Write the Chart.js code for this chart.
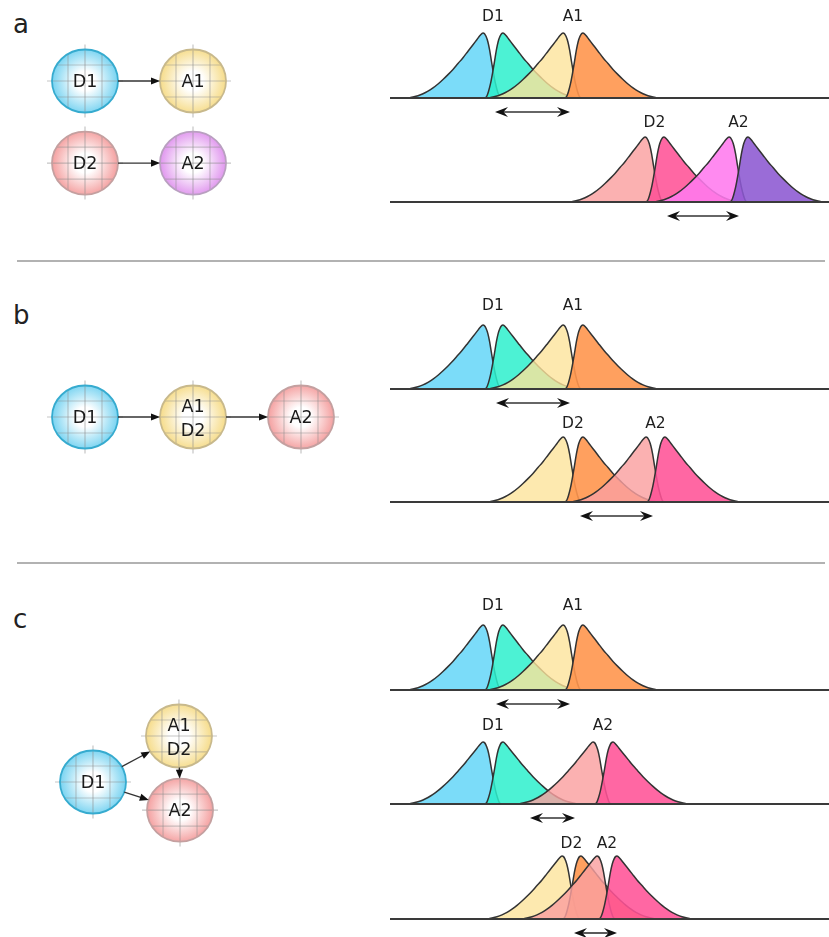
<!DOCTYPE html>
<html>
<head>
<meta charset="utf-8">
<script src="https://cdn.jsdelivr.net/npm/chart.js@4.4.1/dist/chart.umd.min.js"></script>
<style>
  html, body { margin: 0; padding: 0; background: #fff; overflow: hidden; }
  #fig { position: relative; width: 829px; height: 937px; overflow: hidden; background: #fff;
         font-family: "DejaVu Sans", sans-serif; }
  #fig canvas { position: absolute; }
  .tag { position: absolute; left: 13px; font-size: 26px; line-height: 26px; color: #222; }
  .rule { position: absolute; left: 17px; width: 808px; height: 2px; background: #b2b2b2; }
</style>
</head>
<body>
<div id="fig">
  <div class="tag" style="top:11px">a</div>
  <div class="tag" style="top:302px">b</div>
  <div class="tag" style="top:606px">c</div>
  <div class="rule" style="top:260px"></div>
  <div class="rule" style="top:562px"></div>
</div>
<script>
// ---------- peak shapes (offset from the mode, relative density) ----------
const shapeLeftTail = [[-7.5,0],[-7,0.015],[-6.5,0.035],[-6,0.065],[-5.5,0.105],[-5,0.155],
  [-4.5,0.215],[-4,0.285],[-3.5,0.36],[-3,0.44],[-2.5,0.53],[-2,0.62],[-1.5,0.72],[-1,0.82],
  [-0.6,0.9],[-0.3,0.96],[0,1],[0.15,0.99],[0.3,0.95],[0.48,0.87],[0.66,0.74],[0.85,0.56],
  [1.05,0.38],[1.25,0.22],[1.45,0.1],[1.6,0.035],[1.75,0]];
const shapeRightTail = [[-1.75,0],[-1.6,0.035],[-1.45,0.1],[-1.25,0.22],[-1.05,0.38],[-0.85,0.56],
  [-0.66,0.74],[-0.48,0.87],[-0.3,0.95],[-0.15,0.99],[0,1],[0.3,0.96],[0.6,0.9],[1,0.82],
  [1.5,0.72],[2,0.62],[2.5,0.53],[3,0.44],[3.5,0.36],[4,0.285],[4.5,0.215],[5,0.155],
  [5.5,0.105],[6,0.065],[6.5,0.035],[7,0.015],[7.5,0]];

// ---------- distribution rows: labels, modes (onset/offset pairs), arrow span ----------
const labelsA1 = ["D1", "A1"];  const modesA1 = [9.3, 11.3, 17.3, 19.3];  const spanA1 = [10.5, 18.0];
const labelsA2 = ["D2", "A2"];  const modesA2 = [25.5, 27.4, 33.9, 35.8]; const spanA2 = [27.7, 34.9];
const labelsB1 = ["D1", "A1"];  const modesB1 = [9.3, 11.3, 17.3, 19.3];  const spanB1 = [10.6, 18.0];
const labelsB2 = ["D2", "A2"];  const modesB2 = [17.3, 19.3, 25.6, 27.5]; const spanB2 = [19.0, 26.3];
const labelsC1 = ["D1", "A1"];  const modesC1 = [9.3, 11.3, 17.3, 19.3];  const spanC1 = [10.6, 18.0];
const labelsC2 = ["D1", "A2"];  const modesC2 = [9.3, 11.3, 20.3, 22.3];  const spanC2 = [14.0, 18.5];
const labelsC3 = ["D2", "A2"];  const modesC3 = [17.2, 19.1, 20.7, 22.7]; const spanC3 = [18.4, 22.7];

// ---------- node diagrams ----------
const nodesA = ["D1", "A1", "D2", "A2"];     const nodeXA = [0, 1, 0, 1];  const nodeYA = [0, 0, 0.76, 0.76];
const edgesA = [[0, 1], [2, 3]];
const nodesB = ["D1", "A1\nD2", "A2"];        const nodeXB = [0, 1, 2];      const nodeYB = [0, 0, 0];
const edgesB = [[0, 1], [1, 2]];
const nodesC = ["D1", "A1\nD2", "A2"];        const nodeXC = [0.074, 0.87, 0.88]; const nodeYC = [0, -0.426, 0.26];
const edgesC = [[0, 1], [0, 2], [1, 2]];

// ---------- styles ----------
const fill = {
  blue:    'rgba(100,214,248,0.85)',
  teal:    'rgba(45,240,205,0.85)',
  yellow:  'rgba(252,228,155,0.8)',
  orange:  'rgba(255,150,78,0.9)',
  pink:    'rgba(250,160,160,0.82)',
  hot:     'rgba(255,82,150,0.88)',
  magenta: 'rgba(255,122,238,0.88)',
  purple:  'rgba(140,88,210,0.88)'
};
const nodeStyle = {
  cyan:   { rim: '#78d3f1', edge: '#36abcf' },
  gold:   { rim: '#f6dc8a', edge: '#c8b98c' },
  rose:   { rim: '#f4a0a0', edge: '#c4a0a0' },
  violet: { rim: '#e096ee', edge: '#b9a0c0' }
};

const fig = document.getElementById('fig');
function addCanvas(left, top, w, h) {
  const c = document.createElement('canvas');
  c.width = w; c.height = h;
  c.style.left = left + 'px'; c.style.top = top + 'px';
  c.style.width = w + 'px'; c.style.height = h + 'px';
  fig.appendChild(c);
  return c;
}

function doubleArrow(ctx, x0, x1, y) {
  ctx.strokeStyle = '#333'; ctx.lineWidth = 1.6; ctx.fillStyle = '#111';
  ctx.beginPath(); ctx.moveTo(x0 + 6, y); ctx.lineTo(x1 - 6, y); ctx.stroke();
  [[x0, 1], [x1, -1]].forEach(([tx, s]) => {
    ctx.beginPath();
    ctx.moveTo(tx, y);
    ctx.lineTo(tx + s * 13, y - 5);
    ctx.lineTo(tx + s * 8.5, y);
    ctx.lineTo(tx + s * 13, y + 5);
    ctx.closePath(); ctx.fill();
  });
}

const X_MAX = 43.9;
const PAD_TOP = 34, PAD_BOTTOM = 26;

function drawRow(row) {
  const h = PAD_TOP + row.height + PAD_BOTTOM;
  const canvas = addCanvas(390, row.baseline - row.height - PAD_TOP, 439, h);
  const datasets = row.modes.map((m, i) => ({
    data: (i % 2 === 0 ? shapeLeftTail : shapeRightTail).map(([dx, v]) => ({ x: m + dx, y: v })),
    showLine: true, pointRadius: 0, fill: 'origin',
    backgroundColor: row.colors[i], borderColor: '#333', borderWidth: 1.5,
    cubicInterpolationMode: 'monotone', clip: false, order: 10 - i
  }));
  datasets.push({
    data: [{ x: 0, y: 0 }, { x: X_MAX, y: 0 }],
    showLine: true, pointRadius: 0, fill: false, borderColor: '#3a3a3a', borderWidth: 2,
    clip: false, order: 0
  });
  new Chart(canvas, {
    type: 'scatter',
    data: { datasets },
    options: {
      responsive: false, animation: false, events: [],
      layout: { padding: { top: PAD_TOP, bottom: PAD_BOTTOM, left: 0, right: 0 } },
      scales: {
        x: { type: 'linear', display: false, min: 0, max: X_MAX },
        y: { type: 'linear', display: false, min: 0, max: 1 }
      },
      plugins: { legend: { display: false }, tooltip: { enabled: false } }
    },
    plugins: [{
      id: 'rowMarks',
      afterDatasetsDraw(chart) {
        const { ctx, scales: { x, y } } = chart;
        const base = y.getPixelForValue(0), top = y.getPixelForValue(1);
        ctx.save();
        ctx.font = '15.5px "DejaVu Sans"'; ctx.fillStyle = '#1e1e1e';
        ctx.textAlign = 'center'; ctx.textBaseline = 'middle';
        row.labels.forEach((t, k) => {
          const mid = (row.modes[2 * k] + row.modes[2 * k + 1]) / 2;
          ctx.fillText(t, x.getPixelForValue(mid), top - row.labelGap);
        });
        doubleArrow(ctx, x.getPixelForValue(row.span[0]), x.getPixelForValue(row.span[1]), base + 14);
        ctx.restore();
      }
    }]
  });
}

[
  { labels: labelsA1, modes: modesA1, span: spanA1, baseline: 98,  height: 65, labelGap: 16,
    colors: [fill.blue, fill.teal, fill.yellow, fill.orange] },
  { labels: labelsA2, modes: modesA2, span: spanA2, baseline: 202, height: 65, labelGap: 14,
    colors: [fill.pink, fill.hot, fill.magenta, fill.purple] },
  { labels: labelsB1, modes: modesB1, span: spanB1, baseline: 389, height: 64, labelGap: 19,
    colors: [fill.blue, fill.teal, fill.yellow, fill.orange] },
  { labels: labelsB2, modes: modesB2, span: spanB2, baseline: 502, height: 65, labelGap: 13,
    colors: [fill.yellow, fill.orange, fill.pink, fill.hot] },
  { labels: labelsC1, modes: modesC1, span: spanC1, baseline: 690, height: 65, labelGap: 19,
    colors: [fill.blue, fill.teal, fill.yellow, fill.orange] },
  { labels: labelsC2, modes: modesC2, span: spanC2, baseline: 804, height: 62, labelGap: 16,
    colors: [fill.blue, fill.teal, fill.pink, fill.hot] },
  { labels: labelsC3, modes: modesC3, span: spanC3, baseline: 919, height: 63, labelGap: 12,
    colors: [fill.yellow, fill.orange, fill.pink, fill.hot] }
].forEach(drawRow);

// ---------- node diagrams ----------
const RX = 33, RY = 31.5;

function drawNode(ctx, cx, cy, label, st) {
  ctx.save();
  const g = ctx.createRadialGradient(cx, cy, 0, cx, cy, RX);
  g.addColorStop(0, '#ffffff');
  g.addColorStop(0.3, '#ffffff');
  g.addColorStop(1, st.rim);
  ctx.beginPath(); ctx.ellipse(cx, cy, RX, RY, 0, 0, Math.PI * 2);
  ctx.fillStyle = g; ctx.fill();
  // wireframe
  ctx.save();
  ctx.clip();
  ctx.strokeStyle = 'rgba(140,140,140,0.45)'; ctx.lineWidth = 1.2;
  [-17, 17].forEach(d => {
    ctx.beginPath(); ctx.moveTo(cx + d, cy - RY); ctx.lineTo(cx + d, cy + RY); ctx.stroke();
    ctx.beginPath(); ctx.moveTo(cx - RX, cy + d * 0.94); ctx.lineTo(cx + RX, cy + d * 0.94); ctx.stroke();
  });
  ctx.restore();
  ctx.strokeStyle = 'rgba(140,140,140,0.5)'; ctx.lineWidth = 1.2;
  ctx.beginPath(); ctx.moveTo(cx, cy - RY - 5); ctx.lineTo(cx, cy + RY + 5); ctx.stroke();
  ctx.beginPath(); ctx.moveTo(cx - RX - 5, cy); ctx.lineTo(cx + RX + 5, cy); ctx.stroke();
  ctx.beginPath(); ctx.ellipse(cx, cy, RX, RY, 0, 0, Math.PI * 2);
  ctx.strokeStyle = st.edge; ctx.lineWidth = 1.8; ctx.stroke();
  // label
  ctx.fillStyle = '#1a1a1a'; ctx.font = '17.5px "DejaVu Sans"';
  ctx.textAlign = 'center'; ctx.textBaseline = 'middle';
  const lines = label.split('\n');
  if (lines.length === 1) ctx.fillText(lines[0], cx, cy + 1);
  else { ctx.fillText(lines[0], cx, cy - 10); ctx.fillText(lines[1], cx, cy + 14); }
  ctx.restore();
}

function drawEdge(ctx, ax, ay, bx, by) {
  const dx = bx - ax, dy = by - ay, len = Math.hypot(dx, dy);
  const ux = dx / len, uy = dy / len;
  const rim = 1 / Math.sqrt((ux / RX) ** 2 + (uy / RY) ** 2);
  const sx = ax + ux * rim, sy = ay + uy * rim;
  const ex = bx - ux * rim, ey = by - uy * rim;
  ctx.save();
  ctx.strokeStyle = '#333'; ctx.lineWidth = 1.3; ctx.fillStyle = '#111';
  ctx.beginPath(); ctx.moveTo(sx, sy); ctx.lineTo(ex - ux * 6, ey - uy * 6); ctx.stroke();
  ctx.beginPath();
  ctx.moveTo(ex, ey);
  ctx.lineTo(ex - ux * 9 - uy * 3.6, ey - uy * 9 + ux * 3.6);
  ctx.lineTo(ex - ux * 9 + uy * 3.6, ey - uy * 9 - ux * 3.6);
  ctx.closePath(); ctx.fill();
  ctx.restore();
}

const UNIT = 108;   // pixels per layout unit
function drawDiagram(top, height, originX, originY, names, xs, ys, edges, styles) {
  const canvas = addCanvas(0, top, 390, height);
  new Chart(canvas, {
    type: 'scatter',
    data: { datasets: [{ data: xs.map((v, i) => ({ x: v, y: ys[i] })), pointRadius: 0 }] },
    options: {
      responsive: false, animation: false, events: [],
      scales: {
        x: { type: 'linear', display: false, min: -originX / UNIT, max: (390 - originX) / UNIT },
        y: { type: 'linear', display: false, reverse: true,
             min: -originY / UNIT, max: (height - originY) / UNIT }
      },
      plugins: { legend: { display: false }, tooltip: { enabled: false } }
    },
    plugins: [{
      id: 'nodeMarks',
      afterDatasetsDraw(chart) {
        const { ctx, scales: { x, y } } = chart;
        const px = xs.map(v => x.getPixelForValue(v));
        const py = ys.map(v => y.getPixelForValue(v));
        names.forEach((n, i) => drawNode(ctx, px[i], py[i], n, styles[i]));
        edges.forEach(([a, b]) => drawEdge(ctx, px[a], py[a], px[b], py[b]));
      }
    }]
  });
}

drawDiagram(0, 250, 85, 81, nodesA, nodeXA, nodeYA, edgesA,
  [nodeStyle.cyan, nodeStyle.gold, nodeStyle.rose, nodeStyle.violet]);
drawDiagram(280, 250, 85, 137, nodesB, nodeXB, nodeYB, edgesB,
  [nodeStyle.cyan, nodeStyle.gold, nodeStyle.rose]);
drawDiagram(580, 300, 85, 202, nodesC, nodeXC, nodeYC, edgesC,
  [nodeStyle.cyan, nodeStyle.gold, nodeStyle.rose]);
</script>
</body>
</html>
